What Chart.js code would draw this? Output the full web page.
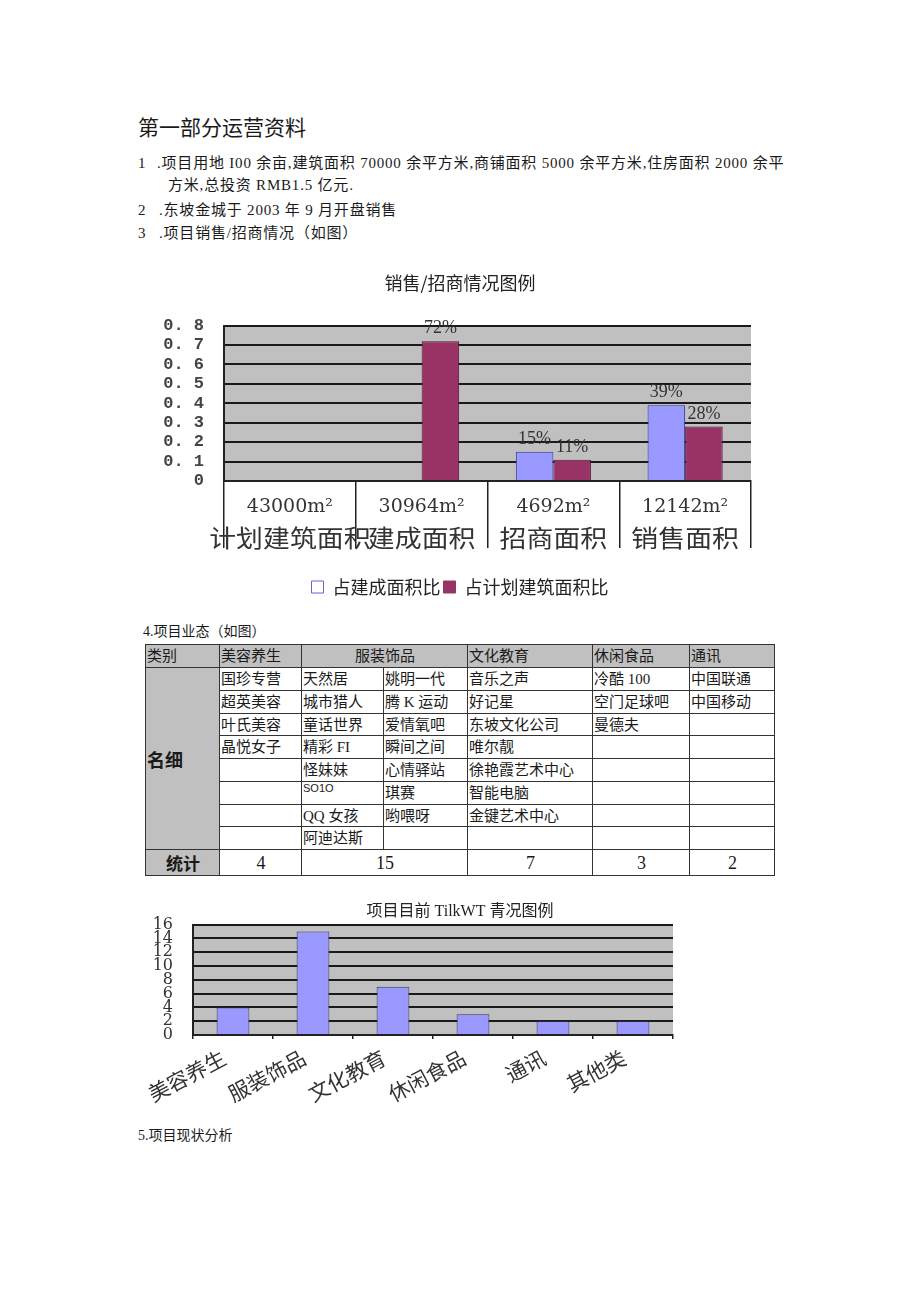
<!DOCTYPE html>
<html><head><meta charset="utf-8">
<script src="https://cdn.jsdelivr.net/npm/chart.js@4.4.1/dist/chart.umd.min.js"></script>
<style>
body{margin:0;background:#fff;width:920px;height:1301px;position:relative;overflow:hidden;font-family:'Liberation Serif','Noto Sans CJK SC',serif;color:#1a1a1a}
.t{position:absolute;white-space:nowrap;font-size:15px;line-height:20px}
.s{letter-spacing:0.8px}
canvas{position:absolute}
table{position:absolute;left:145px;top:644px;border-collapse:collapse;table-layout:fixed;font-size:15px;width:629px}
td{border:1.5px solid #333;padding:0 0 0 1px;white-space:nowrap;overflow:hidden;vertical-align:middle;line-height:18px}
.g{background:#c0c0c0}
.c{text-align:center}
.b{font-family:'Noto Sans CJK SC',sans-serif;font-weight:bold}
.n{text-align:center;font-size:18px}
</style></head>
<body>
<div class="t" style="left:138px;top:116px;font-size:21px;line-height:24px">第一部分运营资料</div>
<div class="t" style="left:138px;top:153px">1</div>
<div class="t s" style="left:157px;top:153px">.项目用地 I00 余亩,建筑面积 70000 余平方米,商铺面积 5000 余平方米,住房面积 2000 余平</div>
<div class="t s" style="left:168px;top:175px">方米,总投资 RMB1.5 亿元.</div>
<div class="t" style="left:138px;top:200px">2</div>
<div class="t s" style="left:159px;top:200px">.东坡金城于 2003 年 9 月开盘销售</div>
<div class="t" style="left:138px;top:223px">3</div>
<div class="t s" style="left:159px;top:223px">.项目销售/招商情况（如图）</div>

<canvas id="c1" width="640" height="341" style="left:140px;top:265px"></canvas>

<div class="t" style="left:143px;top:622px;font-size:14px">4.项目业态（如图）</div>

<table>
<colgroup><col style="width:74px"><col style="width:82px"><col style="width:82px"><col style="width:84px"><col style="width:125px"><col style="width:97px"><col style="width:85px"></colgroup>
<tr style="height:23px" class="g"><td>类别</td><td>美容养生</td><td colspan="2" class="c">服装饰品</td><td>文化教育</td><td>休闲食品</td><td>通讯</td></tr>
<tr style="height:23px"><td rowspan="8" class="g b" style="font-size:18px">名细</td><td>国珍专营</td><td>天然居</td><td>姚明一代</td><td>音乐之声</td><td>冷酷 100</td><td>中国联通</td></tr>
<tr style="height:23px"><td>超英美容</td><td>城市猎人</td><td>腾 K 运动</td><td>好记星</td><td>空门足球吧</td><td>中国移动</td></tr>
<tr style="height:22px"><td>叶氏美容</td><td>童话世界</td><td>爱情氧吧</td><td>东坡文化公司</td><td>曼德夫</td><td></td></tr>
<tr style="height:23px"><td>晶悦女子</td><td>精彩 FI</td><td>瞬间之间</td><td>唯尔靓</td><td></td><td></td></tr>
<tr style="height:23px"><td></td><td>怪妹妹</td><td>心情驿站</td><td>徐艳霞艺术中心</td><td></td><td></td></tr>
<tr style="height:23px"><td></td><td style="vertical-align:top;font-family:'Liberation Sans',sans-serif;font-size:11px;line-height:13px">SO1O</td><td>琪赛</td><td>智能电脑</td><td></td><td></td></tr>
<tr style="height:22px"><td></td><td>QQ 女孩</td><td>哟喂呀</td><td>金键艺术中心</td><td></td><td></td></tr>
<tr style="height:23px"><td></td><td>阿迪达斯</td><td></td><td></td><td></td><td></td></tr>
<tr style="height:26px"><td class="g b c" style="font-size:17px">统计</td><td class="n">4</td><td colspan="2" class="n">15</td><td class="n">7</td><td class="n">3</td><td class="n">2</td></tr>
</table>

<canvas id="c2" width="680" height="225" style="left:120px;top:895px"></canvas>

<div class="t" style="left:138px;top:1126px;font-size:14px">5.项目现状分析</div>

<script>
// ---- Chart 1 data ----
const areaCategories = ['计划建筑面积', '建成面积', '招商面积', '销售面积'];
const areaValues = ['43000m²', '30964m²', '4692m²', '12142m²'];
const builtRatio = [null, null, 0.15, 0.39];   // 占建成面积比
const planRatio = [null, 0.72, 0.11, 0.28];    // 占计划建筑面积比
const ratioSeriesNames = ['占建成面积比', '占计划建筑面积比'];
const ratioTickLabels = ['0', '0. 1', '0. 2', '0. 3', '0. 4', '0. 5', '0. 6', '0. 7', '0. 8'];

// ---- Chart 2 data ----
const formatCategories = ['美容养生', '服装饰品', '文化教育', '休闲食品', '通讯', '其他类'];
const formatCounts = [4, 15, 7, 3, 2, 2];
const countTickLabels = ['0', '2', '4', '6', '8', '10', '12', '14', '16'];

const SERIF = '"Liberation Serif", "Noto Sans CJK SC", serif';
const CJK = '"Noto Sans CJK SC", sans-serif';

const plotBg = {
  id: 'plotBg',
  beforeDraw(chart) {
    const {ctx, chartArea: a} = chart;
    ctx.save();
    ctx.fillStyle = '#c0c0c0';
    ctx.fillRect(a.left, a.top, a.right - a.left, a.bottom - a.top);
    ctx.restore();
  }
};

const barLabels = {
  id: 'barLabels',
  afterDatasetsDraw(chart) {
    const ctx = chart.ctx;
    ctx.save();
    ctx.font = '18px "Liberation Serif", serif';
    ctx.fillStyle = '#333';
    ctx.textAlign = 'center';
    ctx.textBaseline = 'alphabetic';
    chart.data.datasets.forEach((ds, i) => {
      chart.getDatasetMeta(i).data.forEach((bar, j) => {
        const v = ds.data[j];
        if (v == null) return;
        ctx.fillText(Math.round(v * 100) + '%', bar.x, bar.y - 8);
      });
    });
    ctx.restore();
  }
};

const twoLineX = {
  id: 'twoLineX',
  afterDraw(chart) {
    const x = chart.scales.x;
    const ctx = chart.ctx;
    ctx.save();
    ctx.textAlign = 'center';
    ctx.textBaseline = 'middle';
    ctx.fillStyle = '#333';
    areaCategories.forEach((c, i) => {
      const px = x.getPixelForTick(i);
      ctx.font = '19px "DejaVu Serif", serif';
      ctx.fillText(areaValues[i], px, x.top + 26);
      ctx.save();
      ctx.translate(px, x.top + 57);
      ctx.scale(1.12, 1);
      ctx.font = '24px ' + CJK;
      ctx.fillText(c, 0, 0);
      ctx.restore();
    });
    ctx.restore();
  }
};

// an empty right-hand axis reserves the gap right of the plot, so title and legend stay centred on the canvas
const spacerAxis = (w) => ({
  position: 'right', display: true,
  grid: { display: false, drawTicks: false }, border: { display: false },
  ticks: { display: false },
  afterFit(s) { s.width = w; }
});

new Chart(document.getElementById('c1'), {
  type: 'bar',
  data: {
    labels: areaCategories,
    datasets: [
      { label: ratioSeriesNames[0], data: builtRatio, backgroundColor: '#9999ff', borderColor: '#333399', borderWidth: 1, categoryPercentage: 0.57, barPercentage: 1 },
      { label: ratioSeriesNames[1], data: planRatio, backgroundColor: '#993366', borderColor: '#4d1a33', borderWidth: 1, categoryPercentage: 0.57, barPercentage: 1 }
    ]
  },
  options: {
    responsive: false, animation: false, devicePixelRatio: 1,
    layout: { padding: 0 },
    plugins: {
      title: { display: true, text: '销售/招商情况图例', font: { family: CJK, size: 18, weight: 'normal' }, color: '#222', padding: { top: 7, bottom: 32 } },
      legend: {
        position: 'bottom',
        labels: {
          font: { family: CJK, size: 18 }, color: '#222', boxWidth: 12, boxHeight: 12, padding: 3,
          generateLabels(chart) {
            return chart.data.datasets.map((ds, i) => ({
              text: ds.label,
              fillStyle: i === 0 ? '#ffffff' : ds.backgroundColor,
              strokeStyle: i === 0 ? '#6666cc' : ds.backgroundColor,
              lineWidth: 1, datasetIndex: i, fontColor: '#222', hidden: false
            }));
          }
        }
      },
      tooltip: { enabled: false }
    },
    scales: {
      x: {
        grid: { drawOnChartArea: false, drawTicks: true, tickLength: 67, color: '#222', lineWidth: 1.5 },
        border: { color: '#222', width: 2 },
        ticks: { display: false },
        afterFit(s) { s.height = 94; }
      },
      y: {
        min: 0, max: 0.8,
        ticks: { stepSize: 0.1, autoSkip: false, padding: 20, color: '#444', font: { family: '"Liberation Mono", monospace', size: 17, weight: 'bold' },
          callback: (v, i) => ratioTickLabels[i] },
        grid: { color: '#1a1a1a', lineWidth: 2, drawTicks: false },
        border: { color: '#222', width: 2 },
        afterFit(s) { s.width = 84; }
      },
      yRight: spacerAxis(29)
    }
  },
  plugins: [plotBg, barLabels, twoLineX]
});

new Chart(document.getElementById('c2'), {
  type: 'bar',
  data: {
    labels: formatCategories,
    datasets: [
      { label: '业态', data: formatCounts, backgroundColor: '#9999ff', borderColor: '#333366', borderWidth: 1, categoryPercentage: 0.41, barPercentage: 1 }
    ]
  },
  options: {
    responsive: false, animation: false, devicePixelRatio: 1,
    layout: { padding: 0 },
    plugins: {
      title: { display: true, text: '项目目前 TilkWT 青况图例', font: { family: SERIF, size: 16, weight: 'normal' }, color: '#222', padding: { top: 3, bottom: 3 } },
      legend: { display: false },
      tooltip: { enabled: false }
    },
    scales: {
      x: {
        grid: { drawOnChartArea: false, drawTicks: true, tickLength: 4, color: '#222', lineWidth: 1.5 },
        border: { color: '#222', width: 2 },
        ticks: { minRotation: 28, maxRotation: 28, autoSkip: false, padding: 6, labelOffset: -9, color: '#333', font: { family: CJK, size: 21 } },
        afterFit(s) { s.height = 85; }
      },
      y: {
        min: 0, max: 16,
        ticks: { stepSize: 2, autoSkip: false, padding: 20, color: '#333', font: { family: '"DejaVu Serif", serif', size: 16 },
          callback: (v, i) => countTickLabels[i] },
        grid: { color: '#1a1a1a', lineWidth: 2, drawTicks: false },
        border: { color: '#222', width: 2 },
        afterFit(s) { s.width = 73; }
      },
      yRight: spacerAxis(127)
    }
  },
  plugins: [plotBg]
});
</script>
</body></html>
